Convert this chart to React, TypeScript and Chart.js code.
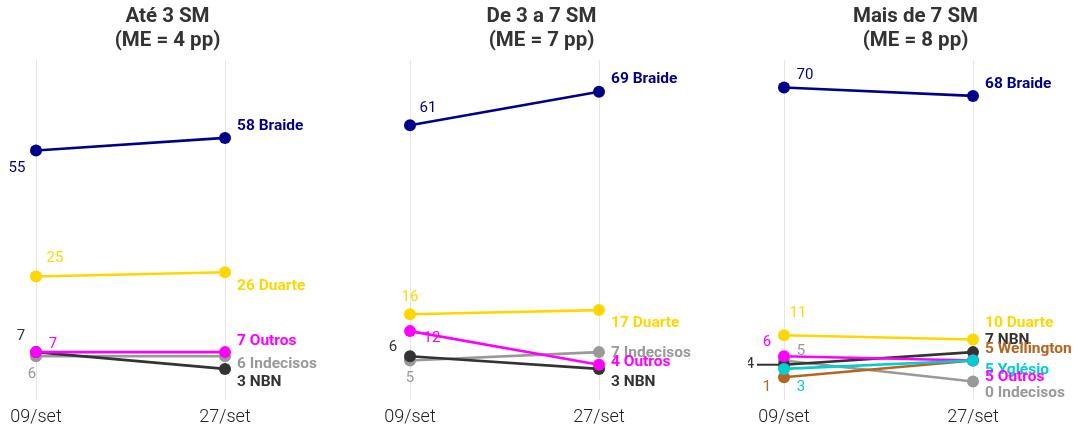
import React, { useEffect, useRef } from "react";
import { Chart, registerables } from "chart.js";

Chart.register(...registerables);

// ---------------- data ----------------
const DATES = ["09/set", "27/set"];

const P1_TITLE = ["Até 3 SM", "(ME = 4 pp)"];
const P1_NAMES = ["Braide", "Duarte", "Outros", "Indecisos", "NBN"];
const P1_SEP09 = [55, 25, 7, 6, 7];
const P1_SEP27 = [58, 26, 7, 6, 3];

const P2_TITLE = ["De 3 a 7 SM", "(ME = 7 pp)"];
const P2_NAMES = ["Braide", "Duarte", "Outros", "Indecisos", "NBN"];
const P2_SEP09 = [61, 16, 12, 5, 6];
const P2_SEP27 = [69, 17, 4, 7, 3];

const P3_TITLE = ["Mais de 7 SM", "(ME = 8 pp)"];
const P3_NAMES = ["Braide", "Duarte", "NBN", "Wellington", "Yglésio", "Outros", "Indecisos"];
const P3_SEP09 = [70, 11, 4, 1, 3, 6, 5];
const P3_SEP27 = [68, 10, 7, 5, 5, 5, 0];

// ---------------- styles ----------------
const COLORS: Record<string, string> = {
  Braide: "#00008B",
  Duarte: "#FFD700",
  Outros: "#FF00FF",
  Indecisos: "#999999",
  NBN: "#333333",
  Wellington: "#B5651D",
  "Yglésio": "#00CED1",
};

// bottom -> top drawing order of the marks
const Z_ORDER = ["Indecisos", "NBN", "Wellington", "Outros", "Yglésio", "Duarte", "Braide"];
// bottom -> top drawing order of the text labels
const LABEL_ORDER = ["Braide", "Duarte", "Indecisos", "NBN", "Yglésio", "Wellington", "Outros"];

type Off = { l: [number, number]; r: [number, number]; seg?: boolean };

const P1_OFFSETS: Record<string, Off> = {
  Braide: { l: [-19, 18], r: [12, -12] },
  Duarte: { l: [19, -18], r: [12, 14] },
  Outros: { l: [17, -8], r: [12, -11] },
  NBN: { l: [-15, -16], r: [12, 13] },
  Indecisos: { l: [-4, 18], r: [12, 8] },
};
const P2_OFFSETS: Record<string, Off> = {
  Braide: { l: [18, -17], r: [12, -13] },
  Duarte: { l: [0, -17], r: [12, 13] },
  Outros: { l: [22, 7], r: [12, -3] },
  NBN: { l: [-17, -9], r: [12, 13] },
  Indecisos: { l: [0, 18], r: [12, 1] },
};
const P3_OFFSETS: Record<string, Off> = {
  Braide: { l: [21, -12], r: [12, -12] },
  Duarte: { l: [14, -22], r: [12, -16.5] },
  Outros: { l: [-17, -14], r: [12, 16.5] },
  Indecisos: { l: [17, -9], r: [12, 11.5] },
  NBN: { l: [-34, 0], r: [12, -12], seg: true },
  Wellington: { l: [-17, 10], r: [12, -11.5] },
  "Yglésio": { l: [17, 18], r: [12, 9.5] },
};

const FONT = "Roboto, 'Noto Sans', 'Liberation Sans', sans-serif";
const CANVAS_H = 428;
const FIRST_PX = 36; // pixel of first date inside a panel
const STEP_PX = 189; // pixels between dates
const TITLE_CENTER_PX = 167.5; // title centre inside a panel
const Y_MIN = -4.4;
const Y_MAX = 76.55;

type PanelProps = {
  title: string[];
  names: string[];
  v09: number[];
  v27: number[];
  offsets: Record<string, Off>;
  width: number;
};

function makeDecor(p: PanelProps) {
  return {
    id: "panelDecor",
    afterDatasetsDraw(chart: any) {
      const ctx = chart.ctx as CanvasRenderingContext2D;
      const xs = chart.scales.x;
      const ys = chart.scales.y;
      const x0 = xs.getPixelForValue(0);
      const x1 = xs.getPixelForValue(1);
      ctx.save();
      ctx.textBaseline = "middle";
      const order = LABEL_ORDER.filter((n) => p.names.includes(n));
      for (const name of order) {
        const i = p.names.indexOf(name);
        const off = p.offsets[name];
        const color = COLORS[name];
        const y0 = ys.getPixelForValue(p.v09[i]);
        const y1 = ys.getPixelForValue(p.v27[i]);
        if (off.seg) {
          ctx.strokeStyle = color;
          ctx.lineWidth = 2;
          ctx.beginPath();
          ctx.moveTo(x0 + off.l[0] + 7, y0 + off.l[1]);
          ctx.lineTo(x0 - 6, y0);
          ctx.stroke();
        }
        ctx.fillStyle = color;
        ctx.textAlign = "center";
        ctx.font = `400 15px ${FONT}`;
        ctx.fillText(String(p.v09[i]), x0 + off.l[0], y0 + off.l[1]);
        ctx.textAlign = "left";
        ctx.font = `700 15.5px ${FONT}`;
        ctx.fillText(`${p.v27[i]} ${name}`, x1 + off.r[0], y1 + off.r[1]);
      }
      // panel title
      ctx.fillStyle = "#333333";
      ctx.textAlign = "center";
      ctx.font = `700 20.5px ${FONT}`;
      const cx = chart.chartArea.left + TITLE_CENTER_PX;
      ctx.fillText(p.title[0], cx, 17);
      ctx.fillText(p.title[1], cx, 40.5);
      ctx.restore();
    },
  };
}

function Panel(p: PanelProps) {
  const ref = useRef<HTMLCanvasElement>(null);
  useEffect(() => {
    if (!ref.current) return;
    const datasets: any[] = [];
    p.names.forEach((name, i) => {
      const rank = Z_ORDER.indexOf(name);
      const c = COLORS[name];
      const pts = [
        { x: 0, y: p.v09[i] },
        { x: 1, y: p.v27[i] },
      ];
      datasets.push({
        label: name + " line",
        data: pts,
        borderColor: c,
        backgroundColor: c,
        borderWidth: 2.6,
        pointRadius: 0,
        tension: 0,
        order: 100 - rank,
      });
      datasets.push({
        label: name,
        data: pts,
        showLine: false,
        borderColor: c,
        backgroundColor: c,
        pointBackgroundColor: c,
        pointBorderColor: c,
        pointBorderWidth: 0,
        pointRadius: 6,
        order: -rank,
      });
    });
    const chart = new Chart(ref.current, {
      type: "line",
      data: { datasets },
      options: {
        animation: false,
        responsive: false,
        events: [],
        layout: { autoPadding: false, padding: { top: 60, left: 0, right: 0, bottom: 0 } },
        plugins: {
          legend: { display: false },
          tooltip: { enabled: false },
          title: { display: false },
        },
        scales: {
          x: {
            type: "linear",
            bounds: "data",
            min: -FIRST_PX / STEP_PX,
            max: (p.width - FIRST_PX) / STEP_PX,
            afterBuildTicks: (scale: any) => {
              scale.ticks = DATES.map((_, k) => ({ value: k }));
            },
            afterFit: (scale: any) => {
              scale.height = 28;
            },
            ticks: {
              callback: (v: any) => DATES[v] ?? "",
              color: "#222222",
              padding: 7,
              maxRotation: 0,
              autoSkip: false,
              font: { family: FONT, size: 18, weight: "300" as any },
            },
            grid: { color: "#E6E6E6", lineWidth: 1, drawTicks: false },
            border: { display: false },
          },
          y: {
            display: false,
            min: Y_MIN,
            max: Y_MAX,
          },
        },
      } as any,
      plugins: [makeDecor(p)],
    });
    return () => chart.destroy();
  }, []);
  return <canvas ref={ref} width={p.width} height={CANVAS_H} style={{ display: "block" }} />;
}

export default function App() {
  return (
    <div
      style={{
        position: "fixed",
        left: 0,
        top: 0,
        width: 1079,
        height: CANVAS_H,
        background: "#ffffff",
        display: "flex",
        overflow: "hidden",
      }}
    >
      <Panel title={P1_TITLE} names={P1_NAMES} v09={P1_SEP09} v27={P1_SEP27} offsets={P1_OFFSETS} width={374} />
      <Panel title={P2_TITLE} names={P2_NAMES} v09={P2_SEP09} v27={P2_SEP27} offsets={P2_OFFSETS} width={374} />
      <Panel title={P3_TITLE} names={P3_NAMES} v09={P3_SEP09} v27={P3_SEP27} offsets={P3_OFFSETS} width={331} />
    </div>
  );
}
